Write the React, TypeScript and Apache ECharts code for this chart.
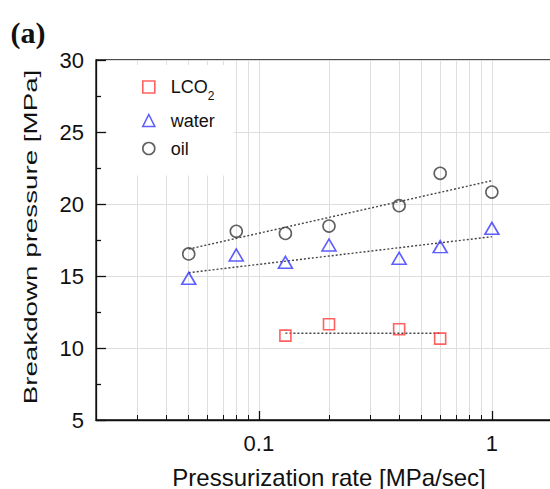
import React, { useEffect, useRef } from "react";
import * as echarts from "echarts";

// ---- data ----
const seriesNames = ["LCO2", "water", "oil"];

const rateLCO2 = [0.13, 0.2, 0.4, 0.6];
const pLCO2 = [10.86, 11.65, 11.3, 10.65];

const rateWater = [0.05, 0.08, 0.13, 0.2, 0.4, 0.6, 1.0];
const pWater = [14.84, 16.46, 15.95, 17.15, 16.23, 17.04, 18.31];

const rateOil = [0.05, 0.08, 0.13, 0.2, 0.4, 0.6, 1.0];
const pOil = [16.53, 18.1, 17.96, 18.47, 19.88, 22.13, 20.83];

// fitted trend lines (end points)
const fitLCO2X = [0.13, 0.6];
const fitLCO2Y = [11.03, 11.02];
const fitWaterX = [0.05, 1.0];
const fitWaterY = [15.23, 17.73];
const fitOilX = [0.05, 1.0];
const fitOilY = [16.87, 21.62];

// axis ticks
const xMajorTicks = [0.1, 1];
const xAllTicks = [
  0.03, 0.04, 0.05, 0.06, 0.07, 0.08, 0.09, 0.1,
  0.2, 0.3, 0.4, 0.5, 0.6, 0.7, 0.8, 0.9, 1,
];

const xTitle = "Pressurization rate [MPa/sec]";
const yTitle = "Breakdown pressure [MPa]";
const panelLabel = "(a)";

const zip = (xs: number[], ys: number[]) => xs.map((x, i) => [x, ys[i]]);

const FONT = "Liberation Sans";
const RED = "#ff3a3a";
const BLUE = "#3636ff";
const GREY = "#383838";
const TEXT = "#111";
const GRIDC = "#dedede";

export default function App() {
  const ref = useRef<HTMLDivElement>(null);
  useEffect(() => {
    document.body.style.margin = "0";
    if (!ref.current) return;
    const chart = echarts.init(ref.current, undefined, { renderer: "svg" });
    const markerStyle = (c: string) => ({
      color: "rgba(0,0,0,0)",
      borderColor: c,
      borderWidth: 1.6,
    });
    const fitStyle = { color: "#444", width: 1.4, type: [2, 2] as any };
    chart.setOption({
      animation: false,
      backgroundColor: "#fff",
      textStyle: { fontFamily: FONT },
      grid: {
        left: 96,
        top: 60,
        width: 466,
        height: 360,
        containLabel: false,
        outerBoundsMode: "none",
        show: true,
        borderColor: "#111",
        borderWidth: 1.3,
      },
      xAxis: [
        {
          type: "log",
          logBase: 10,
          min: 0.02,
          max: 2,
          position: "bottom",
          axisLine: { show: true, onZero: false, lineStyle: { color: "#111", width: 1.3 } },
          axisTick: {
            show: true,
            inside: true,
            length: 5,
            customValues: xAllTicks,
            lineStyle: { color: "#111" },
          },
          axisLabel: { show: false },
          splitLine: { show: true, lineStyle: { color: GRIDC, width: 1 } },
        },
        {
          type: "log",
          logBase: 10,
          min: 0.02,
          max: 2,
          position: "bottom",
          axisLine: { show: false },
          axisTick: {
            show: true,
            inside: true,
            length: 9,
            customValues: xMajorTicks,
            lineStyle: { color: "#111", width: 1.3 },
          },
          axisLabel: {
            show: true,
            customValues: xMajorTicks,
            fontSize: 22,
            color: TEXT,
            margin: 12,
            fontFamily: FONT,
            formatter: (v: number) => String(v),
          },
          splitLine: { show: false },
          name: xTitle,
          nameLocation: "middle",
          nameGap: 45,
          nameTextStyle: { fontSize: 24, color: TEXT, fontFamily: FONT },
        },
      ],
      yAxis: {
        type: "value",
        min: 5,
        max: 30,
        interval: 5,
        axisLine: { show: true, onZero: false, lineStyle: { color: "#111", width: 1.3 } },
        axisTick: { show: true, inside: true, length: 10, lineStyle: { color: "#111", width: 1.3 } },
        minorTick: { show: true, splitNumber: 2, length: 5, lineStyle: { color: "#111", width: 1.3 } },
        axisLabel: { fontSize: 22, color: TEXT, margin: 12, fontFamily: FONT },
        splitLine: { show: true, lineStyle: { color: GRIDC, width: 1 } },
      },
      legend: {
        orient: "vertical",
        left: 107,
        top: 65,
        padding: [13, 19, 18, 35],
        itemGap: 10,
        itemWidth: 12,
        itemHeight: 12,
        backgroundColor: "#fff",
        data: [
          { name: seriesNames[0], icon: "rect", itemStyle: markerStyle(RED) },
          { name: seriesNames[1], icon: "triangle", itemStyle: markerStyle(BLUE) },
          { name: seriesNames[2], icon: "circle", itemStyle: markerStyle(GREY) },
        ],
        formatter: (name: string) =>
          name === "LCO2" ? "{n|LCO}{s|2}" : "{n|" + name + "}",
        textStyle: {
          rich: {
            n: { fontSize: 18, lineHeight: 17, color: TEXT, fontFamily: FONT, padding: [0, 0, 0, 11] },
            s: { fontSize: 12, color: TEXT, fontFamily: FONT, padding: [19, 0, 2, 0] },
          },
        },
      },
      graphic: [
        {
          type: "text",
          x: 31,
          y: 237,
          rotation: Math.PI / 2,
          scaleX: 1.5,
          style: {
            text: yTitle,
            fontSize: 18.5,
            fontFamily: FONT,
            fill: TEXT,
            align: "center",
            verticalAlign: "middle",
          },
        },
        {
          type: "text",
          x: 28,
          y: 32,
          style: {
            text: panelLabel,
            fontSize: 30,
            fontWeight: "bold",
            fontFamily: "Liberation Serif",
            fill: "#111",
            align: "center",
            verticalAlign: "middle",
          },
        },
      ],
      series: [
        {
          name: "LCO2 fit",
          type: "line",
          data: zip(fitLCO2X, fitLCO2Y),
          symbol: "none",
          lineStyle: fitStyle,
          silent: true,
          z: 2,
        },
        {
          name: "water fit",
          type: "line",
          data: zip(fitWaterX, fitWaterY),
          symbol: "none",
          lineStyle: fitStyle,
          silent: true,
          z: 2,
        },
        {
          name: "oil fit",
          type: "line",
          data: zip(fitOilX, fitOilY),
          symbol: "none",
          lineStyle: fitStyle,
          silent: true,
          z: 2,
        },
        {
          name: seriesNames[0],
          type: "scatter",
          data: zip(rateLCO2, pLCO2),
          symbol: "rect",
          symbolSize: 11,
          itemStyle: markerStyle(RED),
          z: 3,
        },
        {
          name: seriesNames[1],
          type: "scatter",
          data: zip(rateWater, pWater),
          symbol: "triangle",
          symbolSize: [14, 12],
          itemStyle: markerStyle(BLUE),
          z: 3,
        },
        {
          name: seriesNames[2],
          type: "scatter",
          data: zip(rateOil, pOil),
          symbol: "circle",
          symbolSize: 12,
          itemStyle: markerStyle(GREY),
          z: 3,
        },
      ],
    });
    return () => chart.dispose();
  }, []);
  return <div ref={ref} style={{ width: 550, height: 489 }} />;
}
